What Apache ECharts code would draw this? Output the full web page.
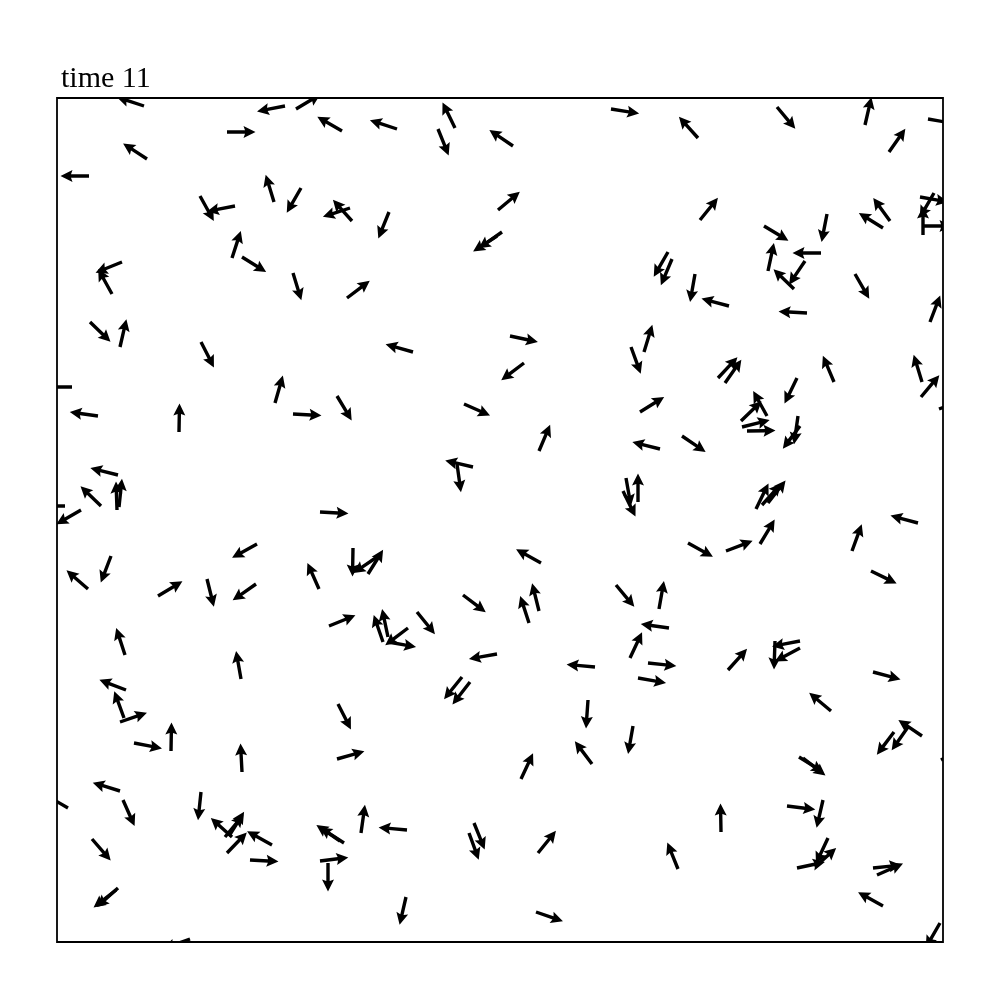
<!DOCTYPE html>
<html>
<head>
<meta charset="utf-8">
<script src="https://cdn.jsdelivr.net/npm/echarts@6/dist/echarts.min.js"></script>
<style>html,body{margin:0;padding:0;background:#fff;}#chart{width:1000px;height:1000px;}</style>
</head>
<body>
<div id="chart"></div>
<script>
// Particle positions (tail of each arrow) in data units, and heading angles in degrees
const xs = [87,228,239,285,170,90,32,217,244,178,143,295,293,175,185,236,65,55,33,63,144,290,
340,398,381,456,554,441,445,440,332,356,453,467,574,587,
641,720,808,871,832,643,833,826,877,866,866,863,770,707,764,711,748,737,798,611,615,638,672,750,873,
15,41,122,218,236,280,61,44,60,62,24,8,200,54,31,101,150,199,262,263,296,272,68,
407,482,416,400,583,603,569,566,581,484,311,320,406,472,482,559,360,326,331,351,331,440,612,573,
661,668,777,865,864,882,625,740,710,684,685,690,741,743,699,705,711,703,669,631,861,795,814,602,743,743,718,671,
184,69,67,63,77,114,185,281,280,63,66,144,11,35,61,59,175,168,172,170,215,193,287,283,263,271,133,
405,413,538,591,581,531,576,535,464,304,350,417,412,481,349,479,
816,774,865,837,851,884,742,746,730,766,664,621,771,740,758,816,820,826,883];
const ys = [836,836,833,811,810,783,766,740,754,736,746,721,734,684,685,669,680,648,620,595,600,644,
813,814,813,796,833,732,710,706,730,590,606,579,595,590,
804,835,817,823,790,722,721,714,749,707,716,745,728,716,689,671,681,653,668,690,683,668,636,629,620,
555,526,510,539,528,546,467,436,432,435,432,436,398,386,353,346,363,358,353,430,394,316,287,
538,491,475,478,530,493,464,451,440,379,368,385,347,319,331,357,330,300,305,314,300,288,314,284,
564,559,560,560,545,533,506,564,526,521,515,511,526,516,433,437,439,398,391,399,419,391,371,333,301,294,301,272,
263,252,224,220,199,191,170,238,183,151,142,150,134,103,54,52,105,105,106,89,97,82,99,101,81,79,3,
265,260,275,279,264,242,216,178,163,109,112,119,109,89,45,30,
270,231,206,210,215,182,185,184,136,142,110,73,104,74,75,74,67,36,19];
const angles = [162,191,31,150,0,147,180,107,240,191,299,132,198,72,328,287,202,119,316,77,297,37,
162,116,292,146,351,40,215,213,248,164,348,217,290,73,
132,310,77,350,55,51,126,148,240,90,0,350,259,329,180,78,236,136,300,240,247,260,165,177,69,
180,172,89,74,357,301,166,136,92,84,210,180,209,249,139,31,284,215,114,357,269,22,108,
336,67,167,278,32,166,280,296,90,151,58,214,323,108,104,310,309,109,102,217,350,190,172,65,
47,55,113,107,50,20,326,244,119,44,14,1,262,233,64,48,52,59,21,331,165,70,334,80,191,208,268,48,
100,159,110,19,349,89,93,297,16,163,294,264,150,311,222,218,138,50,58,46,151,357,147,146,7,270,200,
231,232,175,354,350,266,260,127,65,82,175,292,290,51,257,341,
345,140,146,233,235,30,328,322,353,257,91,112,245,12,42,6,24,151,240];
const xMax = 886, yMax = 844;
const titleText = 'time 11';

const data = xs.map((x, i) => [x, ys[i], angles[i]]);

// arrow geometry (pixels)
const L = 28.5, W = 3.4, HL = 12, HA = 10.5, HW = 12;
const local = [[0,-W/2],[L-HA,-W/2],[L-HL,-HW/2],[L,0],[L-HL,HW/2],[L-HA,W/2],[0,W/2]];

function renderItem(params, api) {
  const p = api.coord([api.value(0), api.value(1)]);
  const a = api.value(2) * Math.PI / 180;
  const c = Math.cos(a), s = -Math.sin(a);
  const pts = local.map(([lx, ly]) => [p[0] + lx * c - ly * s, p[1] + lx * s + ly * c]);
  return { type: 'polygon', shape: { points: pts }, style: { fill: '#000' } };
}

const chart = echarts.init(document.getElementById('chart'), null, { renderer: 'canvas' });
chart.setOption({
  animation: false,
  backgroundColor: '#fff',
  title: {
    text: titleText, left: 56, top: 59,
    textStyle: { fontFamily: 'Liberation Serif', fontSize: 30, fontWeight: 'normal', color: '#000' }
  },
  grid: { left: 57, top: 98, width: 886, height: 844, show: true, borderColor: '#000', borderWidth: 1.8, backgroundColor: 'transparent' },
  xAxis: { type: 'value', min: 0, max: xMax, show: false },
  yAxis: { type: 'value', min: 0, max: yMax, show: false },
  series: [{
    type: 'custom', clip: true, renderItem: renderItem, data: data,
    encode: { x: 0, y: 1 }
  }]
});
</script>
</body>
</html>
